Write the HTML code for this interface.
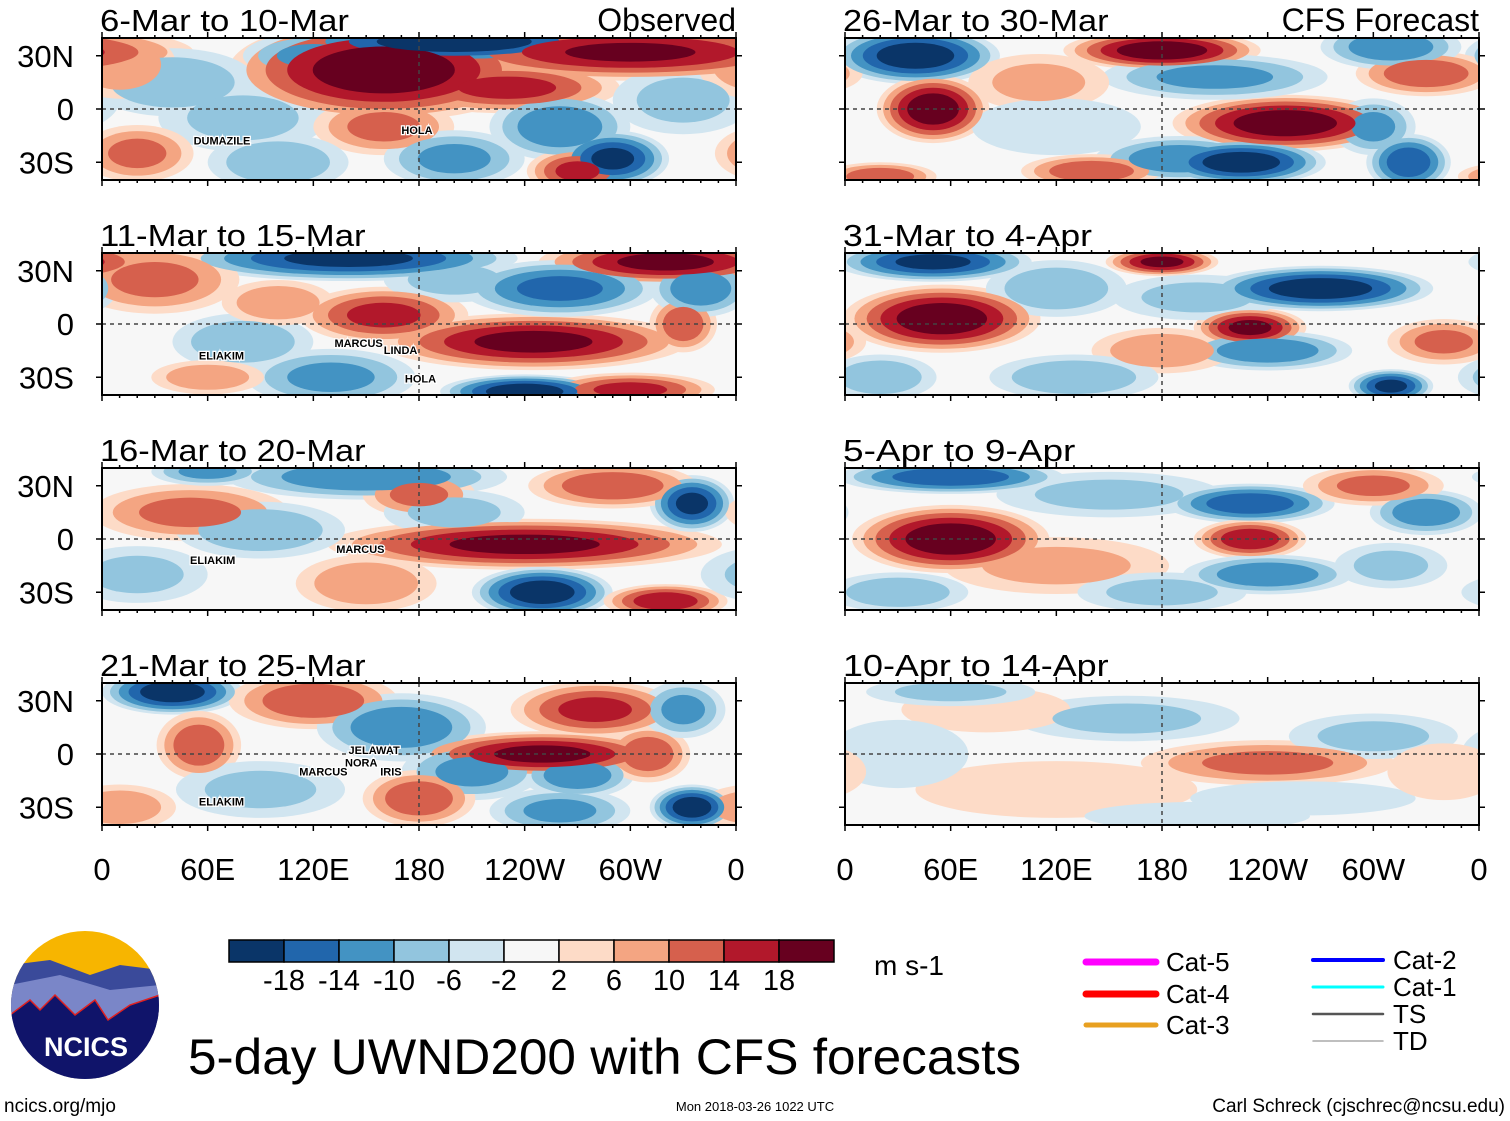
<!DOCTYPE html>
<html><head><meta charset="utf-8">
<style>
html,body{margin:0;padding:0;background:#fff;}
svg{display:block;font-family:"Liberation Sans",sans-serif;}
</style></head>
<body>
<svg id="fig" width="1510" height="1121" viewBox="0 0 1510 1121" xmlns="http://www.w3.org/2000/svg">
<rect x="0" y="0" width="1510" height="1121" fill="#fff"/>
<g id="panels"></g>
<g id="colorbar"></g>
<g>
  <clipPath id="logoclip"><ellipse cx="85" cy="1005" rx="74" ry="74"/></clipPath>
  <g clip-path="url(#logoclip)">
    <rect x="10" y="930" width="150" height="150" fill="#f7b500"/>
    <path d="M10 965 L50 960 L90 975 L120 965 L160 970 L160 1080 L10 1080Z" fill="#3a4a9a"/>
    <path d="M10 985 L60 975 L110 990 L160 985 L160 1080 L10 1080Z" fill="#7a86c8"/>
    <path d="M10 1015 L30 1000 L40 1010 L55 995 L75 1015 L95 1000 L108 1020 L130 1005 L160 995 L160 1080 L10 1080Z" fill="#10146a" stroke="#e02020" stroke-width="1.5"/>
  </g>
  <text x="86" y="1056" font-size="27" font-weight="bold" fill="#fff" text-anchor="middle">NCICS</text>
</g>
<text x="4" y="1112" font-size="19">ncics.org/mjo</text>
<text x="188" y="1074" font-size="50" textLength="833" lengthAdjust="spacingAndGlyphs">5-day UWND200 with CFS forecasts</text>
<text x="755" y="1111" font-size="13" text-anchor="middle">Mon 2018-03-26 1022 UTC</text>
<text x="1505" y="1112" font-size="19" text-anchor="end">Carl Schreck (cjschrec@ncsu.edu)</text>
<text x="874" y="975" font-size="28">m s-1</text>
<g id="storm-legend"></g>
</svg>
<script>
// ---- data ----
const panelTitles = ["6-Mar to 10-Mar","11-Mar to 15-Mar","16-Mar to 20-Mar","21-Mar to 25-Mar","26-Mar to 30-Mar","31-Mar to 4-Apr","5-Apr to 9-Apr","10-Apr to 14-Apr"];
const levels = [2,6,10,14,18];
const posColors = ["#fddbc7","#f4a582","#d6604d","#b2182b","#67001f"];
const negColors = ["#d1e5f0","#92c5de","#4393c3","#2166ac","#0a3568"];
const cbarLabels = ["-18","-14","-10","-6","-2","2","6","10","14","18"];
const cbarColors = ["#0a3568","#2166ac","#4393c3","#92c5de","#d1e5f0","#f7f7f7","#fddbc7","#f4a582","#d6604d","#b2182b","#67001f"];
const lonTicks = ["0","60E","120E","180","120W","60W","0"];
const latTicks = ["30N","0","30S"];
// blobs: [lon, lat, value m/s, lonRadius deg, latRadius deg]
const blobs0 = [[160,22,22,55,18],[200,38,-22,60,8],[300,32,19,70,10],[230,12,16,40,9],[40,15,-10,30,12],[80,-5,-8,30,12],[160,-10,12,25,10],[260,-10,-14,25,12],[290,-28,-20,20,10],[270,-35,16,18,8],[200,-28,-12,25,10],[20,-25,12,20,10],[100,-30,-10,25,10],[330,5,-8,25,12],[10,25,10,20,12],[120,30,-12,25,8]];
const blobs1 = [[140,37,-20,60,8],[320,35,20,45,8],[30,25,12,30,12],[245,-10,20,55,10],[160,5,16,30,10],[260,20,-16,35,10],[80,-10,-10,25,10],[240,-38,-22,30,6],[300,-37,16,30,6],[130,-30,-12,30,10],[330,0,14,12,10],[340,20,-14,18,10],[60,-30,10,20,6],[200,25,-8,25,8],[100,12,10,20,8]];
const blobs2 = [[240,-3,20,70,9],[250,-30,-22,25,9],[320,-35,18,22,6],[335,20,-20,15,10],[290,30,14,30,8],[150,35,-14,50,8],[50,15,12,35,10],[90,5,-10,30,10],[180,25,12,20,8],[20,-20,-8,25,10],[150,-25,10,25,10],[60,38,-12,20,5],[200,15,-8,25,8]];
const blobs3 = [[40,35,-22,25,8],[120,30,14,30,10],[170,15,-14,30,12],[280,25,16,30,10],[250,0,20,45,8],[55,5,14,15,12],[210,-10,-12,25,10],[180,-25,14,20,10],[270,-12,-14,20,8],[335,-30,-22,15,8],[310,0,14,15,10],[260,-32,-12,25,8],[90,-20,-8,30,10],[10,-30,10,20,8],[330,25,-12,15,10]];
const blobs4 = [[40,30,-22,30,10],[50,0,22,20,12],[180,33,22,35,7],[250,-8,22,40,10],[225,-30,-22,30,8],[190,-28,-14,30,8],[210,18,-12,40,8],[330,20,14,25,8],[320,-30,-18,15,10],[110,15,8,25,10],[300,-10,-12,15,10],[140,-35,14,25,6],[20,-38,14,20,5],[310,35,-14,25,8],[120,-10,-6,30,10]];
const blobs5 = [[55,3,22,35,12],[50,35,-20,35,7],[180,35,20,20,5],[270,20,-22,40,8],[230,-2,20,20,7],[240,-15,-14,30,7],[180,-15,10,25,8],[310,-35,-20,15,6],[340,-10,12,20,8],[130,-30,-10,30,8],[120,20,-10,25,10],[200,15,-8,30,8],[20,-30,-10,20,8]];
const blobs6 = [[60,0,22,35,12],[60,35,-18,40,6],[230,20,-18,30,7],[230,0,18,20,7],[240,-20,-14,30,7],[330,15,-14,20,8],[300,30,12,25,7],[150,25,-8,40,8],[120,-15,8,40,10],[310,-15,-8,20,8],[30,-30,-10,25,7],[180,-30,-8,30,7]];
const blobs7 = [[240,-5,12,45,8],[160,20,-8,40,8],[80,25,6,30,8],[300,10,-8,30,8],[120,-20,6,50,10],[60,35,-8,30,5],[260,-25,-6,40,6],[30,0,-6,25,12],[340,-10,6,20,10],[200,-35,-6,40,5]];
const allBlobs = [blobs0,blobs1,blobs2,blobs3,blobs4,blobs5,blobs6,blobs7];
const stormLabels = [[["DUMAZILE",52,-20],["HOLA",170,-14]],[["ELIAKIM",55,-20],["MARCUS",132,-13],["LINDA",160,-17],["HOLA",172,-33]],[["ELIAKIM",50,-14],["MARCUS",133,-8]],[["JELAWAT",140,0],["NORA",138,-7],["MARCUS",112,-12],["IRIS",158,-12],["ELIAKIM",55,-29]],[],[],[],[]];
// ---- layout ----
const NS="http://www.w3.org/2000/svg";
const fig=document.getElementById('fig');
const panelsG=document.getElementById('panels');
const colLeft=[102,845], pw=634;
const rowTop=[38,253,468,683], ph=142;
const RSCALE=1.6;
function mk(tag,attrs,parent){const e=document.createElementNS(NS,tag);for(const k in attrs)e.setAttribute(k,attrs[k]);parent.appendChild(e);return e;}
const defs=mk('defs',{},fig);
function xScale(px,lon){return px+lon/360*pw;}
function yScale(py,lat){return py+ph/2-lat/40*(ph/2);}
for(let p=0;p<8;p++){
  const col=p<4?0:1,row=p%4;
  const px=colLeft[col],py=rowTop[row];
  const g=mk('g',{},panelsG);
  
  
  const cp=mk('clipPath',{id:'cp'+p},defs);
  mk('rect',{x:px,y:py,width:pw,height:ph},cp);
  const field=mk('g',{'clip-path':'url(#cp'+p+')'},g);
  mk('rect',{x:px,y:py,width:pw,height:ph,fill:'#f7f7f7'},field);
  const bl=allBlobs[p];
  for(let li=0;li<levels.length;li++){
    const t=levels[li];
    bl.forEach(b=>{
      const v=Math.abs(b[2]); if(v<=t) return;
      const f=Math.pow(1-(t-2)/v,0.6);
      for(const sh of [0,360,-360]){
        const e=mk('ellipse',{cx:xScale(px,b[0]+sh),cy:yScale(py,b[1]),rx:RSCALE*b[3]*f*pw/360,ry:RSCALE*b[4]*f*(ph/80),fill:b[2]>0?posColors[li]:negColors[li]},field);
        
        
      }
    });
  }
  mk('line',{x1:px,x2:px+pw,y1:yScale(py,0),y2:yScale(py,0),stroke:'#444','stroke-width':1.5,'stroke-dasharray':'4,4'},field);
  mk('line',{x1:xScale(px,180),x2:xScale(px,180),y1:py,y2:py+ph,stroke:'#444','stroke-width':1.5,'stroke-dasharray':'4,4'},field);
  const fr=mk('rect',{x:px,y:py,width:pw,height:ph,fill:'none',stroke:'#000','stroke-width':2},g);
  
  
  for(let lon=0;lon<=360;lon+=10){
    const x=xScale(px,lon),L=lon%60==0?6:3;
    mk('line',{x1:x,x2:x,y1:py,y2:py-L,stroke:'#000','stroke-width':1.5},g);
    mk('line',{x1:x,x2:x,y1:py+ph,y2:py+ph+L,stroke:'#000','stroke-width':1.5},g);
  }
  [30,0,-30].forEach((lat,i)=>{
    const y=yScale(py,lat);
    mk('line',{x1:px-6,x2:px,y1:y,y2:y,stroke:'#000','stroke-width':1.5},g);
    mk('line',{x1:px+pw,x2:px+pw+6,y1:y,y2:y,stroke:'#000','stroke-width':1.5},g);
    if(col==0){const t=mk('text',{x:74,y:y+11,'font-size':31,'text-anchor':'end'},g);t.textContent=latTicks[i];
      
      }
  });
  const tt=mk('text',{x:px-2,y:py-7,'font-size':31,lengthAdjust:'spacingAndGlyphs'},g);tt.textContent=panelTitles[p];
  tt.setAttribute('textLength',panelTitles[p].length*16.6);
  
  
  if(row==0){const s=mk('text',{x:px+pw,y:py-7,'font-size':32,'text-anchor':'end'},g);s.textContent=col==0?'Observed':'CFS Forecast';
    
    }
  if(row==3){lonTicks.forEach((l,i)=>{const t=mk('text',{x:xScale(px,i*60),y:880,'font-size':31,'text-anchor':'middle'},g);t.textContent=l;
    
    });}
  stormLabels[p].forEach(s=>{
    const t=mk('text',{x:xScale(px,s[1]),y:yScale(py,s[2]),'font-size':11,'font-weight':'bold',fill:'#000',stroke:'#fff','stroke-width':2.5,'paint-order':'stroke'},g);
    t.textContent=s[0];
    
    
  });
}
// colorbar
const cb=document.getElementById('colorbar');
const cbx=229,cbw=55;
cbarColors.forEach((c,i)=>{const r=mk('rect',{x:cbx+i*cbw,y:940,width:cbw,height:22,fill:c,stroke:'#000','stroke-width':1.5},cb);
  
  });
cbarLabels.forEach((l,i)=>{const t=mk('text',{x:cbx+(i+1)*cbw,y:990,'font-size':29,'text-anchor':'middle'},cb);t.textContent=l;
  
  });
// storm legend
const sl=document.getElementById('storm-legend');
const legItems=[["Cat-5","#ff00ff",7,1086,962],["Cat-4","#ff0000",7,1086,994],["Cat-3","#e8a020",5,1086,1025],["Cat-2","#0000ff",4,1313,960],["Cat-1","#00ffff",3,1313,987],["TS","#555",2.5,1313,1014],["TD","#aaa",1.5,1313,1041]];
legItems.forEach(it=>{
  const gg=mk('g',{},sl);
  
  
  mk('line',{x1:it[3],x2:it[3]+70,y1:it[4],y2:it[4],stroke:it[1],'stroke-width':it[2],'stroke-linecap':'round'},gg);
  const t=mk('text',{x:it[3]+80,y:it[4]+9,'font-size':26},gg);t.textContent=it[0];
});
</script>
</body></html>
